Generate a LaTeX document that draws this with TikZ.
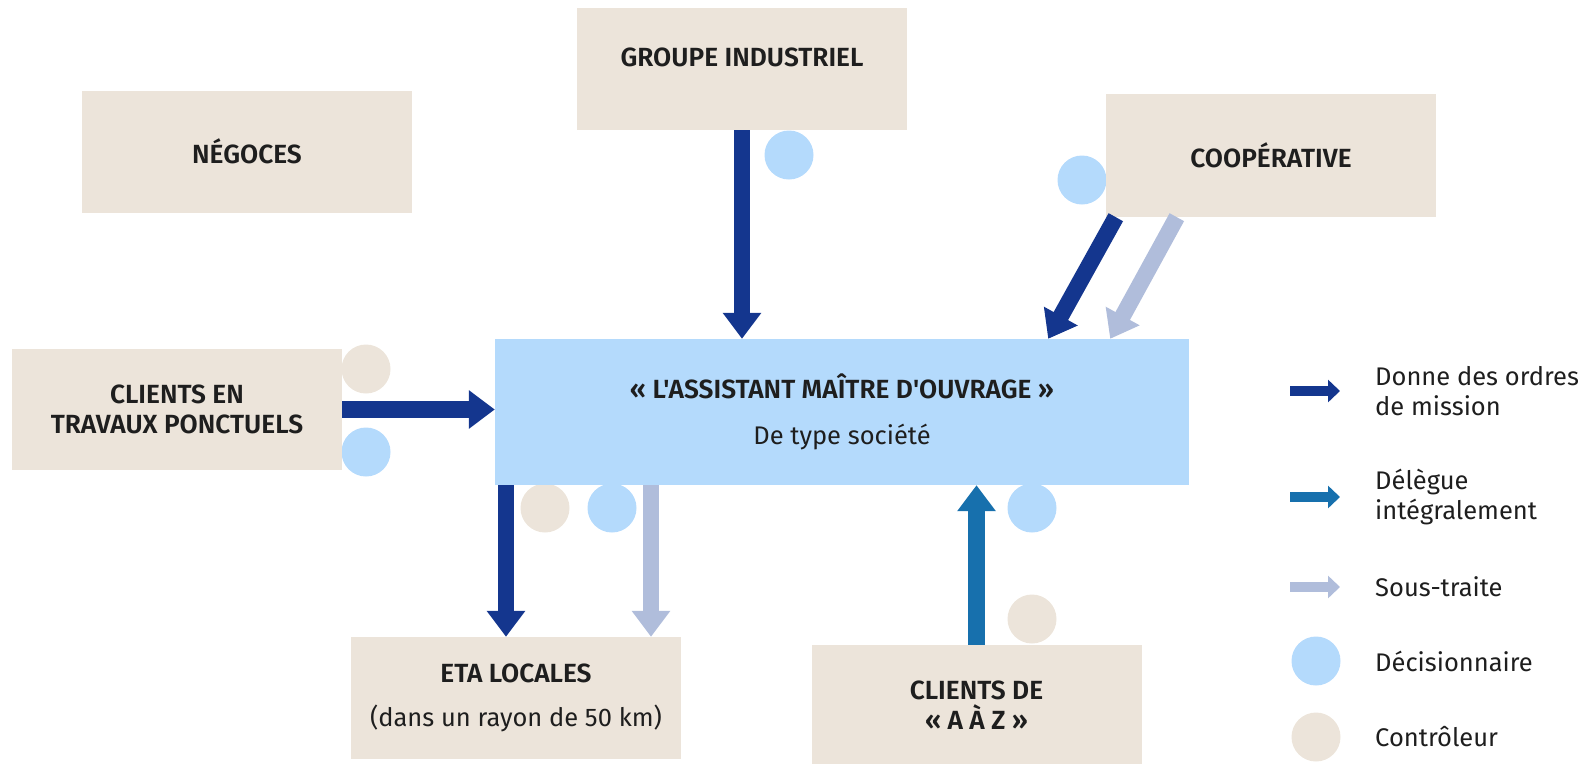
\documentclass[tikz,border=0pt]{standalone}
\usepackage{fontspec}
\setmainfont{Fira Sans}[Ligatures=TeXOff,BoldFont={Fira Sans SemiBold}]
\usetikzlibrary{arrows.meta,positioning}
\definecolor{ordrebleu}{RGB}{20,54,142}
\definecolor{deleguebleu}{RGB}{23,112,173}
\definecolor{soustraitebleu}{RGB}{176,189,219}
\definecolor{decibleu}{RGB}{180,218,252}
\definecolor{ctrlbeige}{RGB}{236,228,218}
\definecolor{texte}{RGB}{30,30,30}
\newcommand{\soustexte}{\fontsize{25.5pt}{30pt}\selectfont\mdseries}
\begin{document}
\begin{tikzpicture}[x=1pt,y=-1pt,
    boite/.style={fill=ctrlbeige,minimum width=330pt,minimum height=122pt,inner sep=0pt,align=center,
        text=texte,font=\fontsize{26.3pt}{30pt}\selectfont\bfseries},
    pastille/.style={circle,minimum size=49pt,inner sep=0pt},
    deci/.style={pastille,fill=decibleu},
    ctrl/.style={pastille,fill=ctrlbeige},
    fleche/.style={line width=16.5pt,-{Triangle[width=37pt,length=26pt]}},
    ordre/.style={fleche,ordrebleu},
    delegue/.style={fleche,deleguebleu},
    soustraite/.style={fleche,soustraitebleu},
    petite/.style={line width=10pt,-{Triangle[width=22pt,length=12pt]}},
    legende/.style={anchor=west,inner sep=0pt,align=left,text=texte,font=\fontsize{25.5pt}{30pt}\selectfont}]
    \useasboundingbox (0,0) rectangle (1586,763);

    \node[deci] (dGroupe) at (789,155) {};
    \node[deci] (dCoop) at (1082,180) {};
    \node[ctrl] (cTravaux) at (366,369) {};
    \node[deci] (dTravaux) at (366,452) {};
    \node[ctrl] (cEta) at (545,508) {};
    \node[deci] (dEta) at (612,508) {};
    \node[deci] (dAaz) at (1032,508) {};
    \node[ctrl] (cAaz) at (1032,619) {};

    \node[boite] (negoces) at (247,151.5) {NÉGOCES};
    \node[boite,text depth=23pt] (groupe) at (742,69) {GROUPE INDUSTRIEL};
    \node[boite,minimum height=123pt] (coop) at (1271,155.5) {COOPÉRATIVE};
    \node[boite,minimum height=121pt] (travaux) at (177,409.5) {CLIENTS EN\\TRAVAUX PONCTUELS};
    \node[boite,fill=decibleu,minimum width=694pt,minimum height=146pt] (amo) at (842,412)
        {«~L'ASSISTANT MAÎTRE D'OUVRAGE~»\\[16pt]{\soustexte De type société}};
    \node[boite] (eta) at (516,698) {ETA LOCALES\\[14pt]{\soustexte (dans un rayon de 50 km)}};
    \node[boite,minimum height=120pt] (aaz) at (976.5,705) {CLIENTS DE\\«~A À Z~»};

    \draw[ordre] (groupe.south) -- (groupe.south |- amo.north);
    \draw[ordre] (travaux.east) -- (travaux.east -| amo.west);

    \coordinate (coopA) at ([xshift=10pt]coop.south west);
    \coordinate (coopB) at ([xshift=71pt]coop.south west);
    \coordinate (amoA) at ([xshift=-141pt]amo.north east);
    \coordinate (amoB) at ([xshift=-79pt]amo.north east);
    \draw[ordre] (coopA) -- (amoA);
    \draw[soustraite] (coopB) -- (amoB);

    \coordinate (etaA) at ([xshift=-10pt]eta.north);
    \coordinate (etaB) at ([xshift=135pt]eta.north);
    \draw[ordre] (amo.south -| etaA) -- (etaA);
    \draw[soustraite] (amo.south -| etaB) -- (etaB);

    \draw[delegue] (aaz.north) -- (aaz.north |- amo.south);

    \node[legende] (lOrdre) at (1375,391) {Donne des ordres\\de mission};
    \node[legende] (lDelegue) at (1375,497) {Délègue\\intégralement};
    \node[legende] (lSous) at (1375,587) {Sous-traite};
    \node[legende] (lDeci) at (1375,661) {Décisionnaire};
    \node[legende] (lCtrl) at (1375,737) {Contrôleur};

    \draw[petite,ordrebleu] ([xshift=-85pt]lOrdre.west) -- ([xshift=-35pt]lOrdre.west);
    \draw[petite,deleguebleu] ([xshift=-85pt]lDelegue.west) -- ([xshift=-35pt]lDelegue.west);
    \draw[petite,soustraitebleu] ([xshift=-85pt]lSous.west) -- ([xshift=-35pt]lSous.west);
    \node[deci] (kDeci) at ([xshift=-59pt]lDeci.west) {};
    \node[ctrl] (kCtrl) at ([xshift=-59pt]lCtrl.west) {};
\end{tikzpicture}
\end{document}
